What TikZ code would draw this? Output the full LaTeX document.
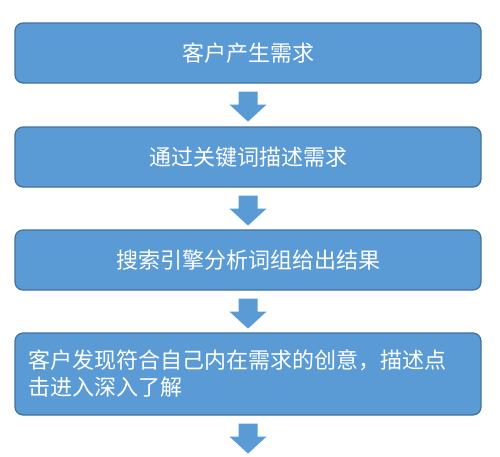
\documentclass[tikz,border=0pt]{standalone}
\usepackage{fontspec}
\usetikzlibrary{calc}
\newfontfamily\cjk{Noto Sans CJK SC}
\definecolor{boxfill}{HTML}{5B9BD5}
\definecolor{boxline}{HTML}{41719C}
\begin{document}
\begin{tikzpicture}[x=1pt,y=-1pt,
  stepbox/.style={draw=boxline, line width=1.2pt, fill=boxfill, rounded corners=8pt,
    minimum width=466pt, inner sep=0pt, text=white, font=\cjk\fontsize{22}{27}\selectfont},
  fatarrow/.style={fill=boxfill, draw=none}]
\useasboundingbox (0,0) rectangle (500,456);
\fill[white] (0,0) rectangle (500,456);
\node[stepbox, minimum height=60pt] (b1) at (248,53) {客户产生需求};
\node[stepbox, minimum height=60pt] (b2) at (248,157) {通过关键词描述需求};
\node[stepbox, minimum height=60pt] (b3) at (248,260) {搜索引擎分析词组给出结果};
\node[stepbox, minimum height=82pt, align=left, text width=440pt] (b4) at (248,374) {客户发现符合自己内在需求的创意，描述点\\击进入深入了解};
\coordinate (a1) at ($(b1.south)+(0,8)$);
\coordinate (a2) at ($(b2.south)+(0,8)$);
\coordinate (a3) at ($(b3.south)+(0,8)$);
\coordinate (a4) at ($(b4.south)+(0,8)$);
\foreach \a in {a1,a2,a3,a4}{
  \fill[fatarrow] ($(\a)+(-9.5,0)$) -- ($(\a)+(9.5,0)$) -- ($(\a)+(9.5,13)$) -- ($(\a)+(18.5,13)$)
   -- ($(\a)+(0,30)$) -- ($(\a)+(-18.5,13)$) -- ($(\a)+(-9.5,13)$) -- cycle;
}
\end{tikzpicture}
\end{document}
